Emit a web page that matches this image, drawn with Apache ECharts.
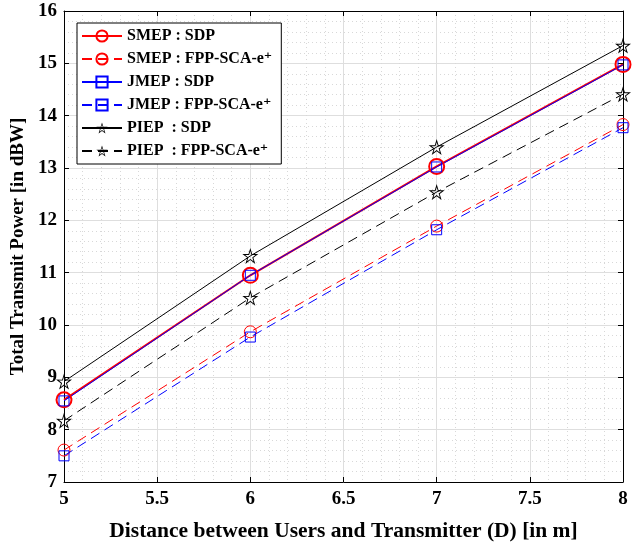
<!DOCTYPE html>
<html>
<head>
<meta charset="utf-8">
<script src="https://cdn.jsdelivr.net/npm/echarts@6/dist/echarts.min.js"></script>
<style>
html,body{margin:0;padding:0;background:#fff;}
#chart{width:637px;height:542px;}
</style>
</head>
<body>
<div id="chart"></div>
<script>
var distance = [5, 6, 7, 8];
var smepSdp = [8.57, 10.95, 13.03, 14.98];
var smepFpp = [7.61, 9.87, 11.89, 13.83];
var jmepSdp = [8.55, 10.95, 13.02, 14.97];
var jmepFpp = [7.50, 9.77, 11.82, 13.77];
var piepSdp = [8.92, 11.32, 13.40, 15.34];
var piepFpp = [8.17, 10.52, 12.54, 14.41];
var names = ['SMEP : SDP', 'SMEP : FPP-SCA-e\u207A', 'JMEP : SDP', 'JMEP : FPP-SCA-e\u207A', 'PIEP  : SDP', 'PIEP  : FPP-SCA-e\u207A'];

// hollow pentagram: outer star plus reversed inner star (hole)
var star = 'path://M50 0 L61.2 34.6 L97.6 34.5 L68.1 55.9 L79.4 90.5 L50 69 L20.6 90.5 L31.9 55.9 L2.4 34.5 L38.8 34.6 Z ' +
    'M50 18 L42.83 40.14 L19.54 40.08 L38.42 53.78 L31.18 75.92 L50 62.16 L68.82 75.92 L61.58 53.78 L80.46 40.08 L57.17 40.14 Z';
var font = '"Liberation Serif", "DejaVu Serif", "Times New Roman", serif';

function pairs(ys) {
    return distance.map(function(x, i) { return [x, ys[i]]; });
}

function makeSeries(name, ys, color, dashed, symbol, size, width) {
    var isStar = symbol === star;
    return {
        name: name,
        type: 'line',
        data: pairs(ys),
        symbol: symbol,
        symbolSize: size,
        showSymbol: true,
        lineStyle: { color: color, width: width, type: dashed ? [10, 6] : 'solid' },
        itemStyle: isStar
            ? { color: color, borderWidth: 0 }
            : { color: 'rgba(0,0,0,0)', borderColor: color, borderWidth: width },
        emphasis: { disabled: true },
        animation: false
    };
}

var myChart = echarts.init(document.getElementById('chart'));
var option = {
    backgroundColor: '#fff',
    textStyle: { fontFamily: font },
    grid: { left: 64, right: 14, top: 11, bottom: 60, show: false, containLabel: false, outerBoundsMode: 'none' },
    legend: {
        orient: 'vertical',
        left: 77,
        top: 23,
        padding: [5, 9, 5, 4],
        itemWidth: 40,
        itemHeight: 14,
        itemGap: 7,
        borderColor: '#000',
        borderWidth: 1,
        backgroundColor: '#fff',
        textStyle: { fontFamily: font, fontWeight: 'bold', fontSize: 16, color: '#000', lineHeight: 14 },
        data: names
    },
    xAxis: [{
        type: 'value',
        min: 5,
        max: 8,
        interval: 0.5,
        name: 'Distance between Users and Transmitter (D) [in m]',
        nameLocation: 'middle',
        nameGap: 38,
        nameTextStyle: { fontFamily: font, fontWeight: 'bold', fontSize: 21.5, color: '#000' },
        axisLine: { show: true, onZero: false, lineStyle: { color: '#000', width: 1 } },
        axisTick: { show: true, inside: true, length: 5, lineStyle: { color: '#000' } },
        axisLabel: { fontFamily: font, fontWeight: 'bold', fontSize: 19, color: '#000', margin: 8 },
        splitLine: { show: true, lineStyle: { color: '#dedede', width: 1 } },
        minorTick: { show: false, splitNumber: 5 },
        minorSplitLine: { show: true, lineStyle: { color: '#d8d8d8', width: 1, type: [1, 3] } }
    }, {
        type: 'value',
        position: 'top',
        min: 5,
        max: 8,
        interval: 0.5,
        axisLine: { show: true, onZero: false, lineStyle: { color: '#000', width: 1 } },
        axisTick: { show: true, inside: true, length: 5, lineStyle: { color: '#000' } },
        axisLabel: { show: false },
        splitLine: { show: false }
    }],
    yAxis: [{
        type: 'value',
        min: 7,
        max: 16,
        interval: 1,
        name: 'Total Transmit Power [in dBW]',
        nameLocation: 'middle',
        nameGap: 34,
        nameTextStyle: { fontFamily: font, fontWeight: 'bold', fontSize: 19, color: '#000' },
        axisLine: { show: true, onZero: false, lineStyle: { color: '#000', width: 1 } },
        axisTick: { show: true, inside: true, length: 5, lineStyle: { color: '#000' } },
        axisLabel: { fontFamily: font, fontWeight: 'bold', fontSize: 19, color: '#000', margin: 7 },
        splitLine: { show: true, lineStyle: { color: '#dedede', width: 1 } },
        minorTick: { show: false, splitNumber: 5 },
        minorSplitLine: { show: true, lineStyle: { color: '#d8d8d8', width: 1, type: [1, 3] } }
    }, {
        type: 'value',
        position: 'right',
        min: 7,
        max: 16,
        interval: 1,
        axisLine: { show: true, onZero: false, lineStyle: { color: '#000', width: 1 } },
        axisTick: { show: true, inside: true, length: 5, lineStyle: { color: '#000' } },
        axisLabel: { show: false },
        splitLine: { show: false }
    }],
    series: [
        makeSeries(names[0], smepSdp, '#ff0000', false, 'circle', 15, 2),
        makeSeries(names[1], smepFpp, '#ff0000', true, 'circle', 12, 1),
        makeSeries(names[2], jmepSdp, '#0000ff', false, 'rect', 10, 1),
        makeSeries(names[3], jmepFpp, '#0000ff', true, 'rect', 10, 1),
        makeSeries(names[4], piepSdp, '#000000', false, star, 16, 1),
        makeSeries(names[5], piepFpp, '#000000', true, star, 16, 1)
    ]
};
myChart.setOption(option);
</script>
</body>
</html>
